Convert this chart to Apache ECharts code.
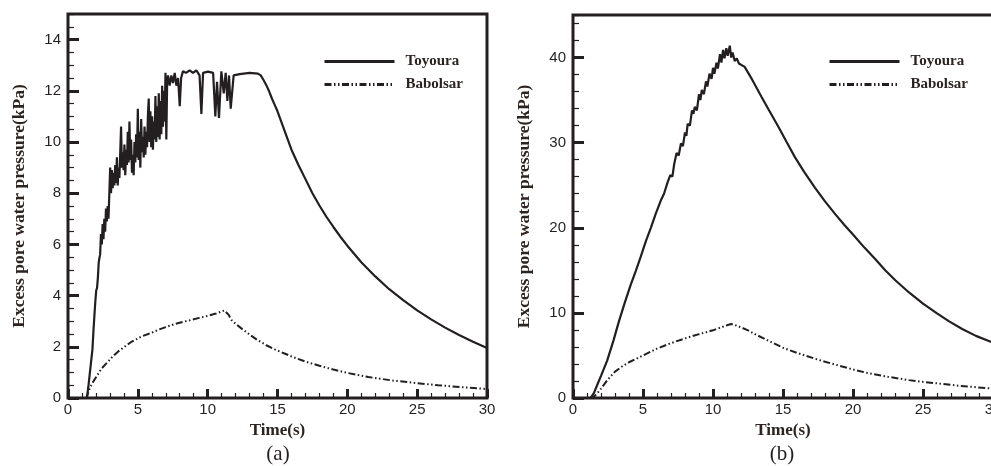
<!DOCTYPE html>
<html>
<head>
<meta charset="utf-8">
<script src="https://cdn.jsdelivr.net/npm/echarts@6/dist/echarts.min.js"></script>
<style>
html,body{margin:0;padding:0;background:#fff;}
#chart{width:991px;height:466px;}
</style>
</head>
<body>
<div id="chart"></div>
<script>
// ---- Data ----
const seriesNames = ['Toyoura', 'Babolsar'];
const xTicksLabelled = [0, 5, 10, 15, 20, 25, 30];

// Panel (a) Toyoura
const toyA_t = [0, 1.35, 1.45, 1.55, 1.65, 1.75, 1.82, 1.9, 1.96, 2.02, 2.08, 2.14, 2.2, 2.26,
  2.30, 2.36, 2.42, 2.48, 2.54, 2.60, 2.66, 2.72, 2.78, 2.84, 2.90, 2.96, 3.02, 3.08, 3.14, 3.20, 3.26, 3.32, 3.38, 3.44, 3.50, 3.56, 3.62, 3.68, 3.74, 3.80, 3.86, 3.92, 3.98, 4.04, 4.10, 4.16, 4.22, 4.28, 4.34, 4.40, 4.46, 4.52, 4.58, 4.64, 4.70, 4.76, 4.82, 4.88, 4.94, 5.00, 5.06, 5.12, 5.18, 5.24, 5.30, 5.36, 5.42, 5.48, 5.54, 5.60, 5.66, 5.72, 5.78, 5.84, 5.90, 5.96, 6.02, 6.08, 6.14, 6.20, 6.26, 6.32, 6.38, 6.44, 6.50, 6.56, 6.62, 6.68, 6.74, 6.80, 6.86, 6.92, 6.98, 7.04, 7.10, 7.16,
  7.28, 7.4, 7.52, 7.64, 7.76, 7.88, 8.0, 8.1, 8.23, 8.45, 8.71, 8.95, 9.19, 9.42, 9.55, 9.67, 10.03, 10.39, 10.55, 10.67, 10.81, 10.98, 11.15, 11.29, 11.41, 11.53, 11.65, 11.86, 12.29, 13.0, 13.6,
  13.8, 14.0, 14.2, 14.4, 14.6, 14.8, 15.0, 15.3, 15.6, 16.0, 16.5, 17.0, 17.5, 18.0, 18.5, 19.0, 19.5, 20.0, 21.0, 22.0, 23.0, 24.0, 25.0, 26.0, 27.0, 28.0, 29.0, 30.0];
const toyA_v = [0, 0, 0.4, 0.9, 1.4, 1.9, 2.6, 3.3, 3.8, 4.2, 4.3, 4.7, 5.3, 5.5,
  5.6, 6.4, 6.0, 6.8, 6.2, 7.0, 6.5, 7.4, 6.9, 7.5, 7.0, 8.0, 9.0, 8.0, 8.9, 8.2, 8.8, 8.3, 9.1, 8.4, 9.4, 8.3, 9.0, 8.6, 9.6, 10.6, 9.0, 9.6, 8.9, 9.9, 8.7, 9.7, 9.1, 10.4, 9.2, 10.8, 9.3, 10.1, 8.8, 9.5, 8.7, 10.0, 9.2, 10.3, 9.4, 11.3, 9.3, 10.4, 9.0, 10.9, 9.6, 10.2, 9.4, 10.6, 9.5, 10.4, 9.8, 11.0, 11.7, 10.0, 11.2, 9.8, 11.0, 9.7, 10.8, 10.1, 11.8, 10.0, 11.4, 10.2, 11.9, 10.1, 11.6, 10.3, 12.2, 10.6, 12.0, 10.8, 12.7, 10.1, 12.4, 12.6,
  12.2, 12.6, 12.3, 12.7, 12.2, 12.5, 11.4, 12.5, 12.76, 12.7, 12.8, 12.7, 12.8, 12.6, 11.1, 12.7, 12.75, 12.7, 11.0, 12.35, 10.94, 12.76, 11.9, 12.7, 11.6, 12.6, 11.3, 12.6, 12.65, 12.7, 12.67,
  12.6, 12.42, 12.22, 11.98, 11.7, 11.45, 11.2, 10.75, 10.3, 9.7, 9.1, 8.55, 8.0, 7.52, 7.08, 6.68, 6.3, 5.95, 5.3, 4.75, 4.25, 3.82, 3.42, 3.07, 2.75, 2.46, 2.2, 1.95];

// Panel (a) Babolsar
const babA_t = [0, 1.32, 1.5, 1.67, 1.85, 2.03, 2.4, 2.86, 3.2, 3.58, 4.0, 4.5, 5.25, 6.0, 6.44, 7.0, 7.64, 8.2, 8.83, 9.4, 10.02, 10.6, 11.2, 11.5, 11.7, 12.0, 12.41, 13.0, 13.6, 14.2, 14.8, 15.5, 16.1, 17.0, 18.0, 19.0, 20.0, 21.5, 23.27, 25.0, 26.5, 28.04, 30];
const babA_v = [0, 0, 0.3, 0.5, 0.68, 0.83, 1.15, 1.42, 1.62, 1.81, 1.98, 2.18, 2.4, 2.55, 2.66, 2.77, 2.89, 2.97, 3.05, 3.13, 3.21, 3.3, 3.42, 3.25, 3.05, 2.9, 2.72, 2.48, 2.25, 2.06, 1.9, 1.74, 1.6, 1.42, 1.26, 1.11, 0.98, 0.82, 0.68, 0.58, 0.5, 0.43, 0.35];

// Panel (b) Toyoura
const toyB_t = [0, 1.25, 1.5, 1.72, 2.0, 2.44, 2.9, 3.28, 3.7, 4.12, 4.5, 4.84, 5.2, 5.56, 5.9, 6.27, 6.5, 6.75, 6.95, 7.1, 7.23, 7.4, 7.55, 7.71, 7.85, 8.0, 8.1, 8.19, 8.35, 8.5, 8.6, 8.7, 8.85, 9.0, 9.1, 9.2, 9.35, 9.5, 9.6, 9.75, 9.9, 10.0, 10.1, 10.25, 10.35, 10.5, 10.6, 10.72, 10.82, 10.95, 11.05, 11.2, 11.3, 11.4, 11.55, 11.7, 11.85,
  12.26, 12.8, 13.46, 14.0, 14.66, 15.25, 15.85, 16.5, 17.29, 18.0, 18.73, 19.4, 20.0, 20.8, 21.6, 22.3, 23.04, 24.0, 25.0, 26.0, 26.87, 27.8, 28.78, 30];
const toyB_v = [0, 0, 0.6, 1.5, 2.6, 4.4, 6.8, 9.0, 11.2, 13.3, 15.0, 16.6, 18.4, 20.0, 21.6, 23.2, 24.0, 25.3, 26.2, 26.0, 27.5, 28.8, 28.5, 29.9, 29.6, 31.2, 30.8, 32.2, 32.0, 33.8, 33.4, 34.2, 33.8, 35.7, 35.0, 36.2, 35.7, 37.2, 36.6, 38.1, 37.5, 38.8, 38.1, 39.4, 38.7, 40.4, 39.4, 40.9, 39.9, 41.1, 40.2, 41.4, 40.0, 40.6, 39.6, 39.9, 39.3,
  38.9, 37.4, 35.4, 33.8, 31.9, 30.1, 28.3, 26.6, 24.7, 23.1, 21.6, 20.3, 19.2, 17.7, 16.3, 15.0, 13.8, 12.4, 11.1, 9.95, 9.0, 8.1, 7.3, 6.5];

// Panel (b) Babolsar
const babB_t = [0, 1.37, 1.7, 2.0, 2.5, 3.0, 3.5, 4.0, 5.0, 6.0, 7.0, 8.0, 9.0, 10.0, 10.5, 11.0, 11.3, 11.7, 12.0, 12.5, 13.0, 14.0, 15.0, 16.0, 17.5, 19.0, 20.0, 21.0, 22.5, 24.0, 25.0, 27.5, 30];
const babB_v = [0, 0, 0.5, 1.1, 2.2, 3.1, 3.7, 4.2, 5.0, 5.8, 6.45, 7.0, 7.5, 7.95, 8.25, 8.55, 8.7, 8.5, 8.3, 7.95, 7.5, 6.7, 5.9, 5.3, 4.5, 3.8, 3.35, 2.95, 2.5, 2.1, 1.9, 1.45, 1.1];

// ---- Build ----
const pairs = (t, v) => t.map((x, i) => [x, v[i]]);
const INK = '#231f20';
const TITLE_INK = '#2b2420';
const babDash = [7, 2.5, 1.5, 2.5, 1.5, 2.5];

const panels = [
  {left: 68, top: 14, width: 419, height: 384, ymax: 15, yint: 2, yminor: 0.5,
   toy: pairs(toyA_t, toyA_v), bab: pairs(babA_t, babA_v), legendLeft: 323, caption: '(a)', captionX: 278},
  {left: 573, top: 15, width: 420, height: 383, ymax: 45, yint: 10, yminor: 2,
   toy: pairs(toyB_t, toyB_v), bab: pairs(babB_t, babB_v), legendLeft: 828, caption: '(b)', captionX: 782}
];

const grid = [], xAxis = [], yAxis = [], series = [], legend = [], graphic = [];
panels.forEach((p, k) => {
  grid.push({left: p.left, top: p.top, width: p.width, height: p.height, show: true,
    outerBoundsMode: 'none', containLabel: false,
    borderColor: INK, borderWidth: 3, backgroundColor: 'transparent'});
  xAxis.push({type: 'value', gridIndex: k, min: 0, max: 30, interval: 5,
    axisLine: {show: false}, splitLine: {show: false},
    axisTick: {show: true, inside: true, length: 9, lineStyle: {color: INK, width: 3}},
    axisLabel: {show: true, margin: 4, color: INK, fontFamily: 'Liberation Sans', fontSize: 15,
      formatter: v => xTicksLabelled.indexOf(v) >= 0 ? String(v) : ''},
    name: 'Time(s)', nameLocation: 'middle', nameGap: 20,
    nameTextStyle: {fontFamily: 'Liberation Serif', fontWeight: 'bold', fontSize: 17, color: TITLE_INK}});
  xAxis.push({type: 'value', gridIndex: k, min: 0, max: 30, interval: 1, position: 'bottom',
    axisLine: {show: false}, splitLine: {show: false}, axisLabel: {show: false},
    axisTick: {show: true, inside: true, length: 5, lineStyle: {color: INK, width: 1.2}}});
  yAxis.push({type: 'value', gridIndex: k, min: 0, max: p.ymax, interval: p.yint,
    axisLine: {show: false}, splitLine: {show: false},
    axisTick: {show: true, inside: true, length: 11, lineStyle: {color: INK, width: 3}},
    axisLabel: {show: true, margin: 7, color: INK, fontFamily: 'Liberation Sans', fontSize: 15,
      showMaxLabel: false},
    name: 'Excess pore water pressure(kPa)', nameLocation: 'middle', nameGap: 40, nameRotate: 90,
    nameTextStyle: {fontFamily: 'Liberation Serif', fontWeight: 'bold', fontSize: 17.5, color: TITLE_INK}});
  yAxis.push({type: 'value', gridIndex: k, min: 0, max: p.ymax, interval: p.yminor, position: 'left',
    axisLine: {show: false}, splitLine: {show: false}, axisLabel: {show: false},
    axisTick: {show: true, inside: true, length: 6, lineStyle: {color: INK, width: 1.2}}});

  series.push({name: 'Toyoura', type: 'line', xAxisIndex: 2 * k, yAxisIndex: 2 * k,
    data: p.toy, symbol: 'none', showSymbol: false, smooth: false, animation: false,
    lineStyle: {color: INK, width: 2.2}, itemStyle: {color: INK}, z: 3});
  series.push({name: 'Babolsar', type: 'line', xAxisIndex: 2 * k, yAxisIndex: 2 * k,
    data: p.bab, symbol: 'none', showSymbol: false, smooth: false, animation: false,
    lineStyle: {color: INK, width: 2, type: babDash}, itemStyle: {color: INK}, z: 3});

  legend.push({data: seriesNames, orient: 'vertical', left: p.legendLeft, top: 54, padding: 0,
    itemWidth: 70, itemHeight: 14, itemGap: 8, selectedMode: false,
    itemStyle: {opacity: 0, color: 'transparent', borderWidth: 0},
    lineStyle: {width: 3},
    textStyle: {fontFamily: 'Liberation Serif', fontWeight: 'bold', fontSize: 15, color: TITLE_INK,
      padding: [0, 0, 0, 6]}});

  graphic.push({type: 'text', x: p.captionX, y: 454,
    style: {text: p.caption, font: '21px "Liberation Serif"', fill: INK,
      textAlign: 'center', textVerticalAlign: 'middle'}});
});

const chart = echarts.init(document.getElementById('chart'), null, {renderer: 'canvas'});
chart.setOption({
  backgroundColor: '#ffffff',
  animation: false,
  grid, xAxis, yAxis, series, legend, graphic
});
</script>
</body>
</html>
